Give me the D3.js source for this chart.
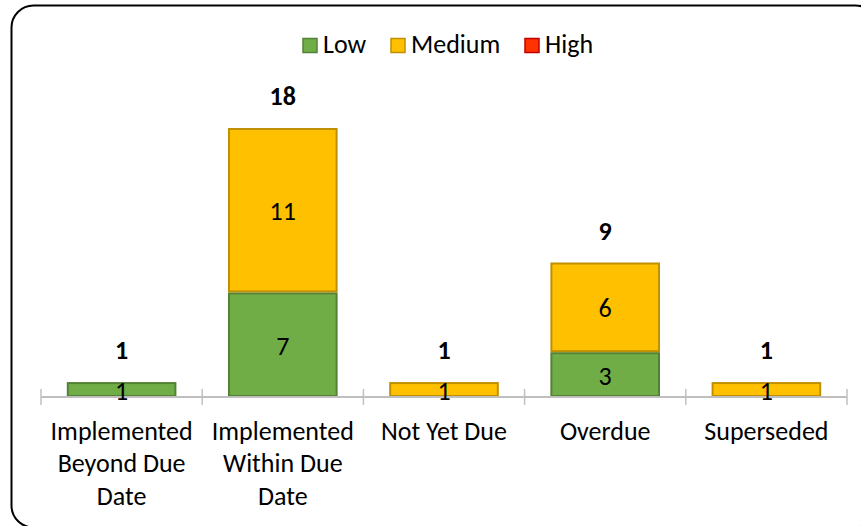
<!DOCTYPE html>
<html><head><meta charset="utf-8">
<script src="https://cdn.jsdelivr.net/npm/d3@7"></script>
<style>body{margin:0;background:#fff;}svg{display:block;font-family:Carlito,Calibri,Lato,sans-serif;}</style>
</head><body><svg id="c" width="861" height="526"></svg>
<script>
const categories = [["Implemented","Beyond Due","Date"],["Implemented","Within Due","Date"],["Not Yet Due"],["Overdue"],["Superseded"]];
const seriesNames = ["Low","Medium","High"];
const low = [1,7,0,3,0];
const medium = [0,11,1,6,1];
const high = [0,0,0,0,0];
const totals = [1,18,1,9,1];
const fills = ["#70AD47","#FFC000","#FF3300"];
const strokes = ["#548235","#BF9000","#C00000"];

const svg = d3.select("#c");
svg.append("rect").attr("x",11.5).attr("y",5.5).attr("width",866).attr("height",522)
  .attr("rx",22).attr("fill","#fff").attr("stroke","#000").attr("stroke-width",2);

const idx = d3.range(categories.length);
const x = d3.scaleBand().domain(idx).range([41,847]).paddingInner(0.32).paddingOuter(0.16);
const y = d3.scaleLinear().domain([0,18]).range([397,128]);

const data = idx.map(i=>({i,Low:low[i],Medium:medium[i],High:high[i]}));
const stack = d3.stack().keys(seriesNames)(data);

stack.forEach((s,k)=>{
  svg.append("g").selectAll("rect").data(s.filter(d=>d[1]-d[0]>0)).join("rect")
    .attr("x",d=>x(d.data.i)+1).attr("width",x.bandwidth()-2)
    .attr("y",d=>y(d[1])+1).attr("height",d=>y(d[0])-y(d[1])-2)
    .attr("fill",fills[k]).attr("stroke",strokes[k]).attr("stroke-width",2);
});

// axis
const ax = svg.append("g");
ax.append("line").attr("x1",41).attr("x2",847).attr("y1",397).attr("y2",397).attr("stroke","#BFBFBF").attr("stroke-width",2);
const step = (847-41)/categories.length;
ax.selectAll("line.t").data(d3.range(categories.length+1)).join("line").attr("class","t")
  .attr("x1",d=>41+d*step).attr("x2",d=>41+d*step).attr("y1",389).attr("y2",405)
  .attr("stroke","#BFBFBF").attr("stroke-width",1.5);

// segment labels
stack.forEach((s,k)=>{
  svg.append("g").selectAll("text").data(s.filter(d=>d[1]-d[0]>0)).join("text")
    .attr("x",d=>x(d.data.i)+x.bandwidth()/2).attr("y",d=>(y(d[0])+y(d[1]))/2+10)
    .attr("text-anchor","middle")
    .attr("font-size",26).attr("fill","#000").text(d=>d[1]-d[0]);
});
// totals
svg.append("g").selectAll("text").data(idx).join("text")
  .attr("x",i=>x(i)+x.bandwidth()/2).attr("y",i=>y(totals[i])-23)
  .attr("text-anchor","middle")
  .attr("font-size",26).attr("font-weight","bold").text(i=>totals[i]);

// category labels
const cl = svg.append("g").selectAll("text").data(idx).join("text")
  .attr("text-anchor","middle").attr("font-size",26).attr("fill","#000");
cl.each(function(i){
  d3.select(this).selectAll("tspan").data(categories[i]).join("tspan")
    .attr("x",x(i)+x.bandwidth()/2).attr("y",(d,j)=>439.5+j*32.5)
    .text(d=>d);
});

// legend
const legX = [302,390,524];
const lg = svg.append("g");
seriesNames.forEach((n,k)=>{
  lg.append("rect").attr("x",legX[k]+1).attr("y",38.5).attr("width",14).attr("height",14)
    .attr("fill",fills[k]).attr("stroke",strokes[k]).attr("stroke-width",1.5);
  lg.append("text").attr("x",legX[k]+21).attr("y",53)
    .attr("font-size",26).text(n);
});
</script></body></html>
